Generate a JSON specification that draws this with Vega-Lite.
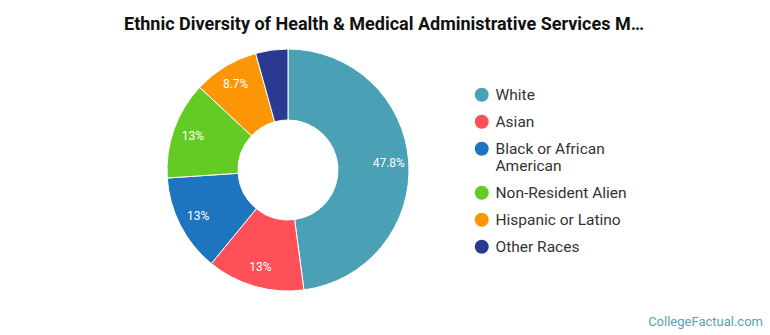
{
  "$schema": "https://vega.github.io/schema/vega-lite/v6.json",
  "width": 576,
  "height": 240,
  "autosize": {"type": "none"},
  "padding": {"top": 50, "left": 0, "right": 194, "bottom": 45},
  "background": "white",
  "config": {"view": {"stroke": null}, "font": "Roboto"},
  "title": {
    "text": "Ethnic Diversity of Health & Medical Administrative Services M…",
    "font": "Roboto",
    "fontSize": 18,
    "fontWeight": "bold",
    "color": "#111111",
    "anchor": "middle",
    "frame": "group",
    "dx": 96,
    "offset": 13
  },
  "data": {
    "values": [
      {"race": "White", "pct": 47.8, "label": "47.8%", "order": 1},
      {"race": "Asian", "pct": 13.0, "label": "13%", "order": 2},
      {"race": "Black or African American", "pct": 13.0, "label": "13%", "order": 3},
      {"race": "Non-Resident Alien", "pct": 13.0, "label": "13%", "order": 4},
      {"race": "Hispanic or Latino", "pct": 8.7, "label": "8.7%", "order": 5},
      {"race": "Other Races", "pct": 4.3, "label": "", "order": 6}
    ]
  },
  "layer": [
    {
      "mark": {"type": "arc", "innerRadius": 50, "outerRadius": 121, "stroke": "white", "strokeWidth": 1},
      "encoding": {
        "theta": {"field": "pct", "type": "quantitative", "stack": true},
        "order": {"field": "order", "type": "quantitative"},
        "color": {
          "field": "race",
          "type": "nominal",
          "sort": ["White", "Asian", "Black or African American", "Non-Resident Alien", "Hispanic or Latino", "Other Races"],
          "scale": {
            "domain": ["White", "Asian", "Black or African American", "Non-Resident Alien", "Hispanic or Latino", "Other Races"],
            "range": ["#4aa0b5", "#fd5059", "#1f74bf", "#63cb24", "#fc9607", "#293a90"]
          },
          "legend": {
            "title": null,
            "orient": "none",
            "legendX": 474,
            "legendY": 37,
            "symbolType": "circle",
            "symbolSize": 196,
            "symbolStrokeWidth": 0,
            "labelFont": "Roboto",
            "labelFontSize": 15.5,
            "labelColor": "#333333",
            "labelOffset": 6,
            "rowPadding": 10,
            "labelLimit": 300,
            "labelExpr": "datum.label == 'Black or African American' ? ['Black or African', 'American'] : datum.label",
            "encode": {
              "labels": {"update": {"lineHeight": {"value": 21}}}
            }
          }
        }
      }
    },
    {
      "mark": {"type": "text", "radius": 101, "font": "Roboto", "fontSize": 12, "color": "white"},
      "encoding": {
        "theta": {"field": "pct", "type": "quantitative", "stack": true},
        "order": {"field": "order", "type": "quantitative"},
        "text": {"field": "label", "type": "nominal"}
      }
    },
    {
      "data": {"values": [{"t": "CollegeFactual.com"}]},
      "mark": {"type": "text", "font": "Roboto", "fontSize": 13, "color": "#5a9fb3", "align": "right", "baseline": "alphabetic", "dx": 187, "dy": 36},
      "encoding": {
        "text": {"field": "t", "type": "nominal"},
        "x": {"value": "width"},
        "y": {"value": "height"}
      }
    }
  ]
}
